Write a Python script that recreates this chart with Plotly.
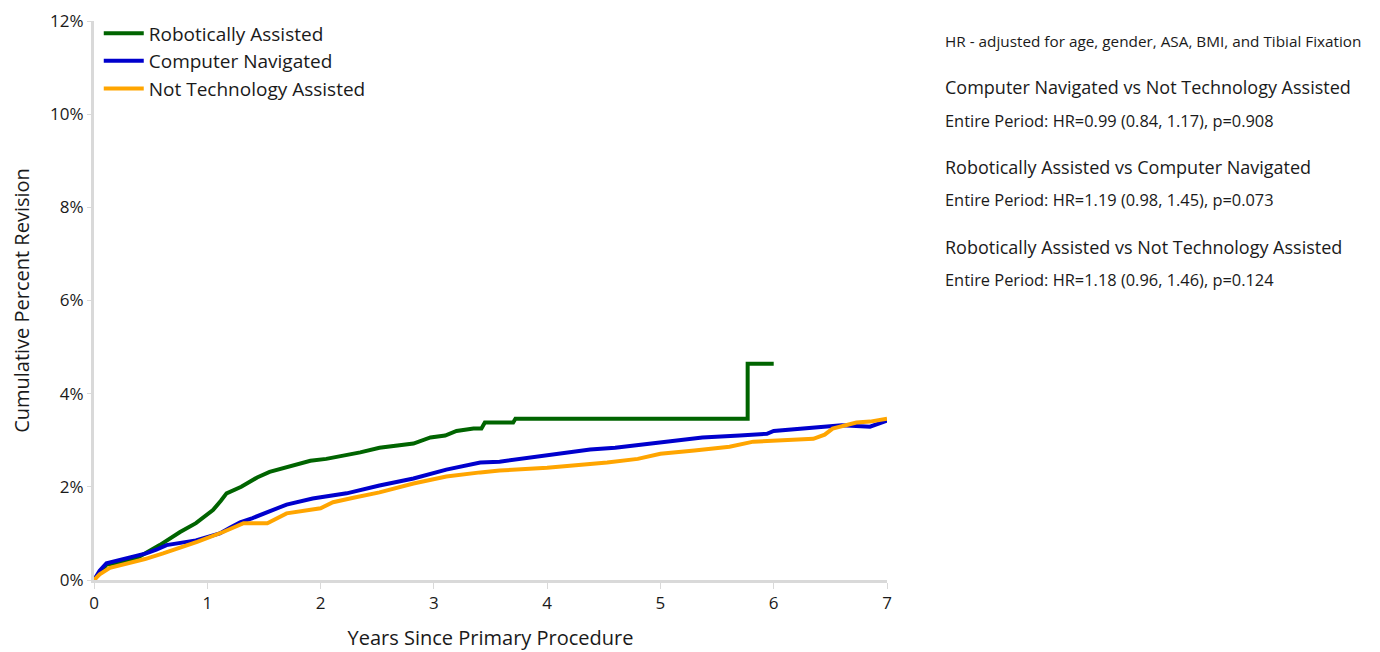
import plotly.graph_objects as go

# Robotically Assisted
rob_t = [0, 0.05, 0.11, 0.26, 0.4, 0.58, 0.66, 0.76, 0.9, 1.05, 1.12, 1.17, 1.3, 1.44, 1.55, 1.70, 1.80, 1.91, 2.05, 2.17, 2.35, 2.52, 2.65, 2.82, 2.97, 3.1, 3.2, 3.35, 3.42, 3.45, 3.70, 3.72, 5.77, 5.77, 6.0]
rob_v = [0, 0.15, 0.33, 0.38, 0.5, 0.75, 0.88, 1.03, 1.22, 1.5, 1.7, 1.86, 2.0, 2.2, 2.32, 2.42, 2.48, 2.56, 2.6, 2.65, 2.74, 2.84, 2.88, 2.93, 3.06, 3.1, 3.2, 3.25, 3.25, 3.38, 3.38, 3.46, 3.46, 4.64, 4.64]

# Computer Navigated
cn_t = [0, 0.05, 0.11, 0.26, 0.35, 0.46, 0.55, 0.64, 0.9, 1.11, 1.2, 1.29, 1.4, 1.53, 1.70, 1.93, 2.23, 2.52, 2.82, 3.11, 3.41, 3.58, 4.0, 4.38, 4.6, 4.93, 5.1, 5.37, 5.7, 5.94, 6.0, 6.2, 6.47, 6.6, 6.85, 6.93, 7.0]
cn_v = [0, 0.2, 0.36, 0.45, 0.5, 0.57, 0.65, 0.75, 0.85, 1.0, 1.12, 1.24, 1.33, 1.45, 1.62, 1.75, 1.86, 2.03, 2.18, 2.37, 2.52, 2.54, 2.67, 2.8, 2.84, 2.93, 2.97, 3.06, 3.1, 3.14, 3.2, 3.24, 3.31, 3.32, 3.29, 3.36, 3.42]

# Not Technology Assisted
nta_t = [0, 0.05, 0.14, 0.32, 0.45, 0.61, 0.75, 0.91, 1.14, 1.32, 1.53, 1.70, 2.0, 2.11, 2.3, 2.52, 2.82, 3.11, 3.41, 3.58, 4.0, 4.53, 4.8, 5.0, 5.3, 5.61, 5.82, 6.1, 6.35, 6.45, 6.52, 6.73, 6.85, 7.0]
nta_v = [0, 0.12, 0.26, 0.36, 0.45, 0.57, 0.68, 0.82, 1.03, 1.22, 1.22, 1.43, 1.54, 1.67, 1.77, 1.88, 2.07, 2.22, 2.31, 2.35, 2.41, 2.52, 2.6, 2.71, 2.78, 2.86, 2.97, 3.0, 3.03, 3.12, 3.25, 3.38, 3.4, 3.46]

series = [
    ("Robotically Assisted", rob_t, rob_v, "#006400"),
    ("Computer Navigated", cn_t, cn_v, "#0000CD"),
    ("Not Technology Assisted", nta_t, nta_v, "#FFA500"),
]

FONT = "Open Sans"
TXT = "#1a1a1a"
fig = go.Figure()
for name, t, v, c in series:
    fig.add_trace(go.Scatter(x=t, y=[val / 100 for val in v], mode="lines", name=name,
                             line=dict(color=c, width=4)))

TOP = 13
PH = 572 - TOP  # plot height in figure pixels
fig.update_layout(
    width=1380, height=652,
    margin=dict(l=86, r=501, t=TOP, b=80, autoexpand=False),
    plot_bgcolor="white", paper_bgcolor="white",
    font=dict(family=FONT, color=TXT, size=17),
    legend=dict(x=0.006, y=1.012, xanchor="left", yanchor="top", font=dict(size=19),
                bgcolor="rgba(0,0,0,0)", tracegroupgap=0, itemwidth=40),
    xaxis=dict(range=[0, 7], tickvals=list(range(8)), showgrid=False, zeroline=False,
               showline=True, linecolor="#d9d9d9", linewidth=3, ticks="outside",
               tickcolor="#d9d9d9", ticklen=6, automargin=False, ticklabeloverflow="allow",
               title=dict(text="Years Since Primary Procedure", standoff=18),
               tickfont=dict(size=17)),
    yaxis=dict(range=[0, 0.12], tickvals=[0, 0.02, 0.04, 0.06, 0.08, 0.10, 0.12], tickformat=".0%",
               showgrid=False, zeroline=False, showline=True, linecolor="#d9d9d9", linewidth=3,
               ticks="outside", tickcolor="#d9d9d9", ticklen=4, automargin=False,
               ticklabeloverflow="allow",
               title=dict(text="Cumulative Percent Revision", standoff=26), tickfont=dict(size=17)),
)

notes = [
    ("HR - adjusted for age, gender, ASA, BMI, and Tibial Fixation", 41, 15.3),
    ("Computer Navigated vs Not Technology Assisted", 87, 18),
    ("Entire Period: HR=0.99 (0.84, 1.17), p=0.908", 120, 16.4),
    ("Robotically Assisted vs Computer Navigated", 167, 18),
    ("Entire Period: HR=1.19 (0.98, 1.45), p=0.073", 199, 16.4),
    ("Robotically Assisted vs Not Technology Assisted", 247, 18),
    ("Entire Period: HR=1.18 (0.96, 1.46), p=0.124", 279, 16.4),
]
for txt, py, sz in notes:
    fig.add_annotation(text=txt, xref="paper", yref="paper",
                       x=(943 - 94) / 793, y=(580 - py) / PH, xanchor="left", yanchor="middle",
                       showarrow=False, font=dict(size=sz, family=FONT, color=TXT))

fig.write_html("out.html")
